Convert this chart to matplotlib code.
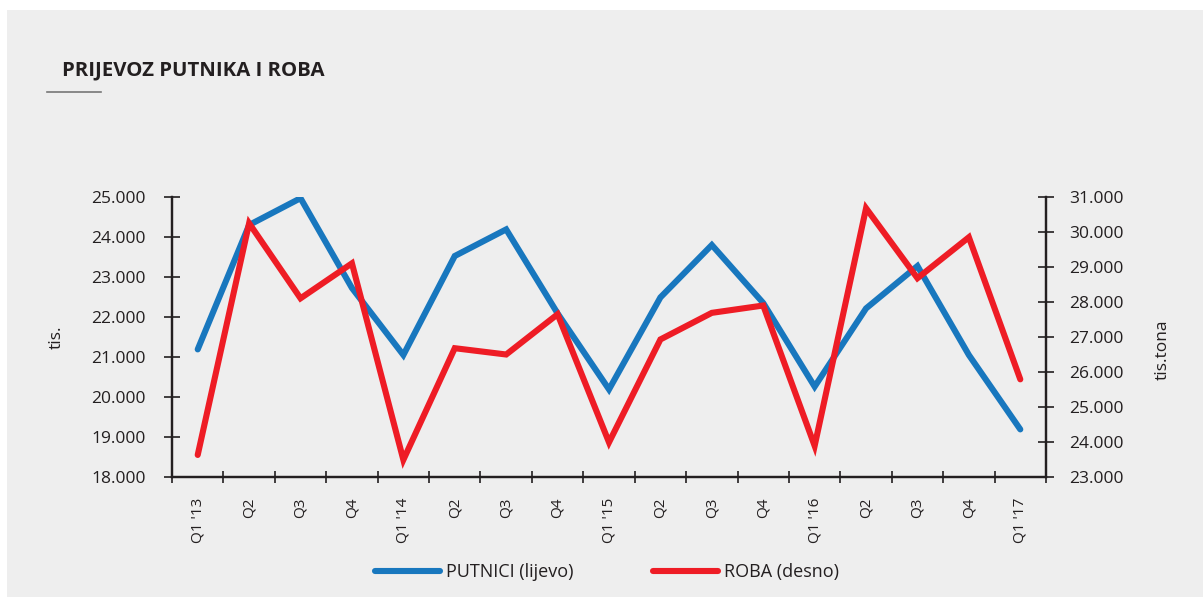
import matplotlib
matplotlib.use("Agg")
import matplotlib.pyplot as plt
from matplotlib.ticker import FuncFormatter, FixedLocator
from matplotlib.patches import Rectangle
from matplotlib.lines import Line2D

plt.rcParams['font.family'] = ['Open Sans', 'DejaVu Sans']

# podaci
kvartali = ["Q1 '13", "Q2", "Q3", "Q4", "Q1 '14", "Q2", "Q3", "Q4", "Q1 '15",
            "Q2", "Q3", "Q4", "Q1 '16", "Q2", "Q3", "Q4", "Q1 '17"]
putnici = [21190, 24300, 24970, 22725, 21050, 23525, 24190, 22090, 20190,
           22490, 23800, 22350, 20260, 22215, 23275, 21050, 19190]
roba = [23630, 30250, 28105, 29105, 23490, 26680, 26500, 27650, 23990,
        26930, 27690, 27900, 23890, 30680, 28680, 29850, 25790]

lijevo_ticks = [18000, 19000, 20000, 21000, 22000, 23000, 24000, 25000]
desno_ticks = [23000, 24000, 25000, 26000, 27000, 28000, 29000, 30000, 31000]

PLAVA = "#1877be"
CRVENA = "#ee1c25"
TAMNA = "#231f20"
POZADINA = "#eeeeee"

fmt = FuncFormatter(lambda v, p: f"{v:,.0f}".replace(",", "."))

fig = plt.figure(figsize=(12.04, 5.97), dpi=100)
fig.patch.set_facecolor("white")
fig.patches.append(Rectangle((7 / 1204, 0), 1 - 8 / 1204, 1 - 10 / 597,
                             transform=fig.transFigure, facecolor=POZADINA,
                             edgecolor="none", zorder=-10))

ax = fig.add_axes([172 / 1204, 1 - 477 / 597, 874 / 1204, 280 / 597])
ax.set_facecolor("none")
ax2 = ax.twinx()

x = list(range(len(kvartali)))
ax.plot(x, putnici, color=PLAVA, lw=4.4, solid_capstyle="round",
        solid_joinstyle="miter", zorder=3)
ax2.plot(x, roba, color=CRVENA, lw=4.4, solid_capstyle="round",
         solid_joinstyle="miter", zorder=3)

ax.set_xlim(-0.5, len(kvartali) - 0.5)
ax.set_ylim(18000, 25000)
ax2.set_ylim(23000, 31000)

ax.set_yticks(lijevo_ticks)
ax2.set_yticks(desno_ticks)
ax.yaxis.set_major_formatter(fmt)
ax2.yaxis.set_major_formatter(fmt)

ax.set_xticks(x)
ax.set_xticklabels(kvartali, rotation=90, va="top")
ax.xaxis.set_minor_locator(FixedLocator([i - 0.5 for i in range(len(kvartali) + 1)]))
ax.tick_params(axis="x", which="major", length=0, pad=15, labelsize=11,
               colors=TAMNA)
ax.tick_params(axis="x", which="minor", direction="inout", length=9,
               width=1.2, color=TAMNA)
ax.tick_params(axis="y", direction="inout", length=12, width=1.2,
               pad=13, labelsize=12.5, colors=TAMNA)
ax2.tick_params(axis="y", direction="inout", length=12, width=1.2,
                pad=11, labelsize=12.5, colors=TAMNA)

for a in (ax, ax2):
    a.spines["top"].set_visible(False)
    for s in ("left", "right", "bottom"):
        a.spines[s].set_color(TAMNA)
        a.spines[s].set_linewidth(1.6)

fig.text(57 / 1204, 1 - 337 / 597, "tis.", rotation=90, ha="center",
         va="center", fontsize=12.5, color=TAMNA)
fig.text(1163 / 1204, 1 - 350 / 597, "tis.tona", rotation=90, ha="center",
         va="center", fontsize=12.5, color=TAMNA)

# naslov
fig.text(62 / 1204, 1 - 70 / 597, "PRIJEVOZ PUTNIKA I ROBA", fontsize=14.7,
         fontweight="bold", color=TAMNA, va="center", ha="left")
fig.add_artist(Line2D([47 / 1204, 101 / 1204], [1 - 92 / 597, 1 - 92 / 597],
                      transform=fig.transFigure, color="#777777", lw=1.2))

# legenda
h1 = Line2D([], [], color=PLAVA, lw=4.4, solid_capstyle="round")
h2 = Line2D([], [], color=CRVENA, lw=4.4, solid_capstyle="round")
fig.legend([h1, h2], ["PUTNICI (lijevo)", "ROBA (desno)"], ncol=2,
           loc="center", bbox_to_anchor=(607 / 1204, 1 - 572 / 597),
           frameon=False, fontsize=13, handlelength=3.6, handletextpad=0.35,
           columnspacing=4.4, labelcolor=TAMNA)

fig.savefig("out.png", dpi=100, facecolor=fig.get_facecolor())
